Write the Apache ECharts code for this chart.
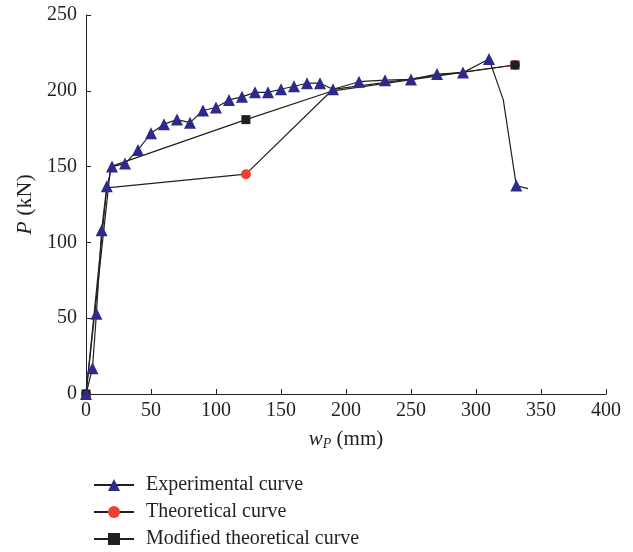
<!DOCTYPE html>
<html>
<head>
<meta charset="utf-8">
<script src="https://cdn.jsdelivr.net/npm/echarts@6/dist/echarts.min.js"></script>
<style>
    html, body { margin: 0; padding: 0; background: #fff; }
    #chart { width: 633px; height: 552px; }
</style>
</head>
<body>
<div id="chart"></div>
<script>
    // experimental curve (marker on every point except the listed ones)
    var expX = [0, 5, 8, 12, 16, 20, 30, 40, 50, 60, 70, 80, 90, 100, 110, 120, 130, 140, 150, 160, 170, 180, 190, 210, 230, 250, 270, 290, 310, 321, 331, 340];
    var expY = [0, 17, 53, 108, 137, 150, 152, 161, 172, 178, 181, 179, 187, 189, 194, 196, 199, 199, 201, 203, 205, 205, 201, 206, 207, 207.5, 211, 212, 221, 194, 137.5, 135.5];
    var expNoMarker = [29, 31];

    // theoretical curve
    var theoX = [0, 16, 123, 190, 330];
    var theoY = [0, 136, 145, 201, 217];
    var theoMarker = [0, 2, 4];

    // modified theoretical curve
    var modX = [0, 19, 123, 190, 330];
    var modY = [0, 150, 181, 200, 217];
    var modMarker = [0, 2, 4];

    function buildData(xs, ys, show) {
        return xs.map(function (x, i) {
            var item = { value: [x, ys[i]] };
            if (!show(i)) item.symbol = 'none';
            return item;
        });
    }

    var serif = 'Liberation Serif';
    var ink = '#231f20';
    var myChart = echarts.init(document.getElementById('chart'));
    var option = {
        animation: false,
        textStyle: { fontFamily: serif, color: ink },
        grid: { left: 86, right: 27, top: 15, bottom: 158 },
        legend: {
            orient: 'vertical',
            left: 93,
            top: 475,
            padding: 0,
            itemWidth: 40,
            itemHeight: 15,
            itemGap: 7,
            textStyle: { fontFamily: serif, fontSize: 20, lineHeight: 20, color: ink, padding: [0, 0, 0, 7] },
            data: ['Experimental curve', 'Theoretical curve', 'Modified theoretical curve']
        },
        xAxis: {
            type: 'value',
            min: 0, max: 400, interval: 50,
            name: '{i|w}{s|P} {n|(mm)}',
            nameLocation: 'middle',
            nameGap: 33,
            nameTextStyle: {
                fontFamily: serif, fontSize: 21, color: ink,
                rich: {
                    i: { fontFamily: serif, fontStyle: 'italic', fontSize: 21 },
                    s: { fontFamily: serif, fontStyle: 'italic', fontSize: 14, padding: [10, 0, 0, 0] },
                    n: { fontFamily: serif, fontSize: 21 }
                }
            },
            axisLine: { lineStyle: { color: ink, width: 1 } },
            axisTick: { inside: true, length: 5, lineStyle: { color: ink } },
            axisLabel: { fontFamily: serif, fontSize: 20, color: ink, margin: 7 },
            splitLine: { show: false }
        },
        yAxis: {
            type: 'value',
            min: 0, max: 250, interval: 50,
            name: '{i|P} {n|(kN)}',
            nameLocation: 'middle',
            nameGap: 50,
            nameMoveOverlap: false,
            nameTextStyle: {
                fontFamily: serif, fontSize: 22, color: ink,
                rich: {
                    i: { fontFamily: serif, fontStyle: 'italic', fontSize: 22 },
                    n: { fontFamily: serif, fontSize: 22 }
                }
            },
            axisLine: { show: true, lineStyle: { color: ink, width: 1 } },
            axisTick: { show: true, inside: true, length: 5, lineStyle: { color: ink } },
            axisLabel: { fontFamily: serif, fontSize: 20, color: ink, margin: 9 },
            splitLine: { show: false }
        },
        series: [
            {
                name: 'Experimental curve',
                type: 'line',
                symbol: 'triangle',
                symbolSize: 12,
                itemStyle: { color: '#2e2a8c' },
                lineStyle: { color: ink, width: 1.2 },
                z: 4,
                data: buildData(expX, expY, function (i) { return expNoMarker.indexOf(i) < 0; })
            },
            {
                name: 'Theoretical curve',
                type: 'line',
                symbol: 'circle',
                symbolSize: 10,
                itemStyle: { color: '#ee4130' },
                lineStyle: { color: ink, width: 1.2 },
                z: 2,
                data: buildData(theoX, theoY, function (i) { return theoMarker.indexOf(i) >= 0; })
            },
            {
                name: 'Modified theoretical curve',
                type: 'line',
                symbol: 'rect',
                symbolSize: 9,
                itemStyle: { color: ink },
                lineStyle: { color: ink, width: 1.2 },
                z: 3,
                data: buildData(modX, modY, function (i) { return modMarker.indexOf(i) >= 0; })
            }
        ]
    };
    myChart.setOption(option);
</script>
</body>
</html>
